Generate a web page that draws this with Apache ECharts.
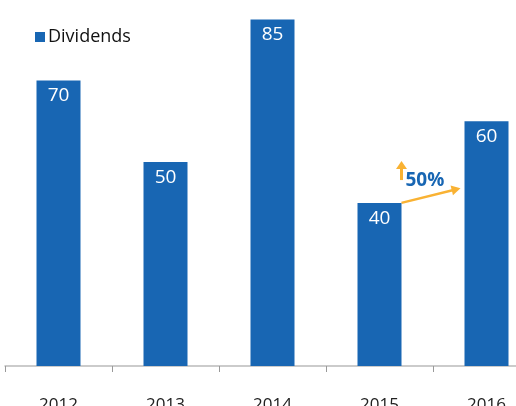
<!DOCTYPE html>
<html lang="en">
<head>
    <meta charset="UTF-8">
    <title>Dividends</title>
    <script src="https://cdn.jsdelivr.net/npm/echarts@6/dist/echarts.min.js"></script>
    <style>
        html, body {margin: 0; padding: 0; background: #fff;}
        #main {width: 516px; height: 406px;}
    </style>
</head>
<body>
<div id="main"></div>
<script>
    // 数据
    let years = ['2012', '2013', '2014', '2015', '2016'];
    let dividends = [70, 50, 85, 40, 60];
    let growthLabel = '50%';

    let blue = '#1866b3';
    let orange = '#f9b233';
    let font = 'Open Sans';

    let myChart = echarts.init(document.getElementById('main'));
    let option = {
        animation: false,
        textStyle: {fontFamily: font},
        legend: {
            left: 30,
            top: 23,
            itemWidth: 10,
            itemHeight: 10,
            itemGap: 4,
            icon: 'rect',
            textStyle: {fontSize: 18, color: '#111', fontFamily: font, padding: [0, 0, 0, -2]},
            data: ['Dividends']
        },
        grid: {left: 5, right: -24, top: -1, bottom: 40, outerBoundsMode: 'none', containLabel: false},
        xAxis: {
            type: 'category',
            data: years,
            axisLine: {lineStyle: {color: '#bbb', width: 1.5}},
            axisTick: {show: true, length: 6, lineStyle: {color: '#999'}},
            axisLabel: {fontSize: 17, color: '#222', margin: 31, fontFamily: font}
        },
        yAxis: {
            type: 'value',
            min: 0,
            max: 90,
            show: false,
            splitLine: {show: false}
        },
        series: [{
            name: 'Dividends',
            type: 'bar',
            data: dividends,
            barWidth: 44,
            itemStyle: {color: blue},
            label: {
                show: true,
                position: 'insideTop',
                distance: 6,
                color: '#fff',
                fontSize: 19,
                fontFamily: font
            }
        }]
    };
    myChart.setOption(option);

    // 增长箭头
    let arrowHead = (x1, y1, x2, y2, size, w) => {
        let dx = x2 - x1, dy = y2 - y1;
        let len = Math.sqrt(dx * dx + dy * dy);
        let ux = dx / len, uy = dy / len;
        let bx = x2 - ux * size, by = y2 - uy * size;
        return [[x2, y2], [bx - uy * w, by + ux * w], [bx + uy * w, by - ux * w]];
    };
    let drawArrows = () => {
        let p15 = myChart.convertToPixel({seriesIndex: 0}, [3, dividends[3]]);
        let p16 = myChart.convertToPixel({seriesIndex: 0}, [4, dividends[3] + 3.6]);
        let x1 = p15[0] + 22, y1 = p15[1];
        let x2 = p16[0] - 26, y2 = p16[1];
        let up1 = myChart.convertToPixel({seriesIndex: 0}, [3, dividends[3] + 5.6]);
        let up2 = myChart.convertToPixel({seriesIndex: 0}, [3, dividends[3] + 10.3]);
        let head1 = arrowHead(x1, y1, x2, y2, 9, 5);
        let ux = x1, uy1 = up1[1], uy2 = up2[1];
        myChart.setOption({
            graphic: [
                {type: 'line', shape: {x1: x1, y1: y1, x2: head1[0][0] - (x2 - x1) / 60 * 4, y2: head1[0][1] - (y2 - y1) / 60 * 4}, style: {stroke: orange, lineWidth: 2.5}},
                {type: 'polygon', shape: {points: head1}, style: {fill: orange}},
                {type: 'line', shape: {x1: ux, y1: uy1, x2: ux, y2: uy2 + 5}, style: {stroke: orange, lineWidth: 3}},
                {type: 'polygon', shape: {points: arrowHead(ux, uy1, ux, uy2, 8, 5.5)}, style: {fill: orange}},
                {
                    type: 'text', x: ux + 4, y: (uy1 + uy2) / 2 + 10,
                    style: {text: growthLabel, fill: blue, font: 'bold 19px "' + font + '"', textVerticalAlign: 'middle'}
                }
            ]
        });
    };
    drawArrows();
</script>
</body>
</html>
